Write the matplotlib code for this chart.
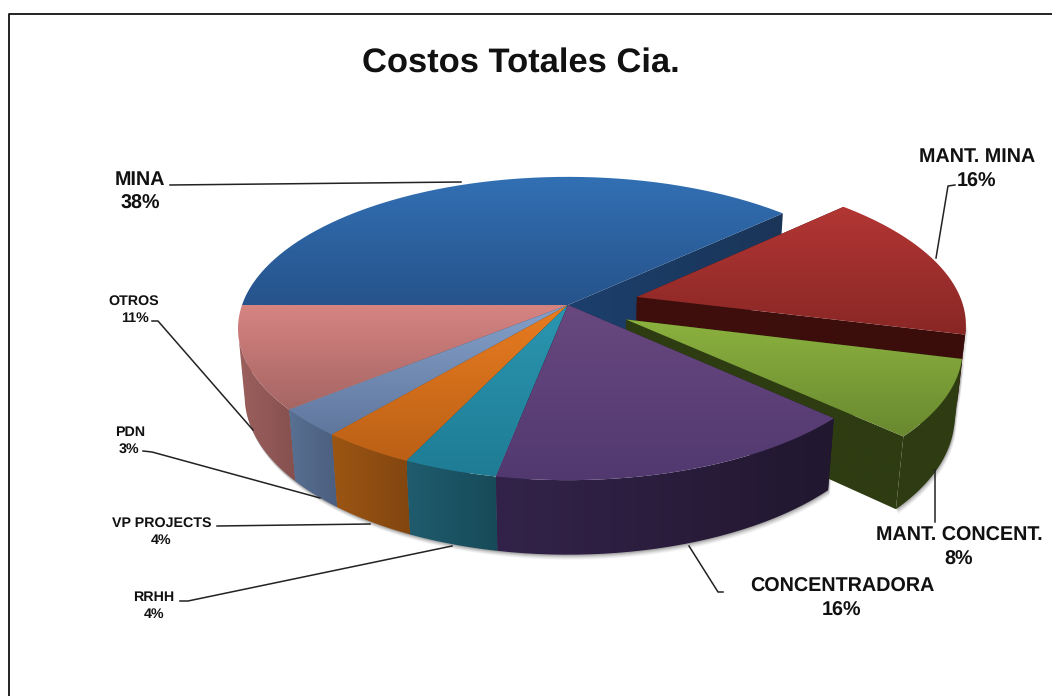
import numpy as np
import matplotlib
matplotlib.use('Agg')
import matplotlib.pyplot as plt
from matplotlib.colors import LinearSegmentedColormap
from matplotlib.patches import PathPatch
from matplotlib.path import Path

plt.rcParams['font.family'] = ['Liberation Sans', 'DejaVu Sans']
plt.rcParams['text.hinting'] = 'no_hinting'

# slices, clockwise starting from the left of the pie
labels = ['MINA', 'MANT. MINA', 'MANT. CONCENT.', 'CONCENTRADORA',
          'RRHH', 'VP PROJECTS', 'PDN', 'OTROS']
values = [38, 16, 8, 16, 4, 4, 3, 11]
explode = [0, 0.22, 0.2, 0, 0, 0, 0, 0]

top_start = ['#3270b4', '#b23634', '#8cb23f', '#68487f', '#2b96b0', '#e87c20', '#84a0ca', '#d68482']
top_end = ['#26538b', '#892725', '#6a8930', '#513970', '#1f7c95', '#bb6016', '#60779d', '#a56563']
wall_start = ['#1c3f6c', '#3f0f0d', '#2e3c12', '#33234a', '#1f5c6e', '#9c5513', '#587092', '#9c605e']
wall_end = ['#1a3558', '#3a0d0b', '#2e3c12', '#21172f', '#174a58', '#824610', '#4c5f80', '#85504e']

# pie projection
cx, cy = 568, 305
rx, ry = 326, 148
persp = 0.155
depth = 68
depth_persp = 0.02

# drawing order, back of the pie first
order = [0, 1, 2, 7, 6, 5, 4, 3]


def project(u, v, z=0.0):
    w = 1 - persp * v + depth_persp * z
    return cx + rx * u / w, cy + (ry * v + depth * z) / w


def arc(a0, a1, off, z=0.0):
    t = np.radians(np.linspace(a0, a1, max(int(abs(a1 - a0)) * 2, 2)))
    return project(np.cos(t) + off[0], -np.sin(t) + off[1], z)


def fill_gradient(ax, xs, ys, c0, c1, vertical, zorder):
    xs, ys = np.asarray(xs), np.asarray(ys)
    cmap = LinearSegmentedColormap.from_list('g', [c0, c1])
    ramp = np.linspace(0, 1, 128)
    ramp = ramp[:, None] if vertical else ramp[None, :]
    pts = np.column_stack([xs, ys])
    patch = PathPatch(Path(np.vstack([pts, pts[:1]])), transform=ax.transData, fc='none', ec='none')
    ax.add_patch(patch)
    im = ax.imshow(ramp, cmap=cmap, vmin=0, vmax=1, aspect='auto', origin='upper',
                   extent=(xs.min(), xs.max(), ys.max(), ys.min()), zorder=zorder,
                   interpolation='bilinear')
    im.set_clip_path(patch)


fig = plt.figure(figsize=(10.52, 6.96), dpi=100)
ax = fig.add_axes([0, 0, 1, 1])

angles = 180 - np.cumsum([0] + [v * 3.6 for v in values])
z = 2
for i in order:
    a0, a1 = angles[i], angles[i + 1]
    mid = np.radians((a0 + a1) / 2)
    off = (explode[i] * np.cos(mid), -explode[i] * np.sin(mid))

    apex_top = project(off[0], off[1])
    apex_low = project(off[0], off[1], 1)

    # the two flat cut faces
    for a in (a0, a1):
        x_top, y_top = arc(a, a, off)
        x_low, y_low = arc(a, a, off, 1)
        fill_gradient(ax, [apex_top[0], x_top[0], x_low[0], apex_low[0]],
                      [apex_top[1], y_top[0], y_low[0], apex_low[1]],
                      wall_start[i], wall_end[i], False, z)
        z += 1

    # rim wall, only the part turned to the viewer
    w0, w1 = min(a0, -10), max(a1, -170)
    if w0 > w1:
        x_top, y_top = arc(w0, w1, off)
        x_low, y_low = arc(w0, w1, off, 1)
        xs = np.r_[x_top, x_low[::-1]]
        ys = np.r_[y_top, y_low[::-1]]
        # soft shadow on the floor
        for dy, alpha in ((5, 0.05), (4, 0.07), (3, 0.09), (2, 0.12), (1, 0.15)):
            ax.fill(xs + dy * 0.4, ys + dy, color='#303030', alpha=alpha, lw=0, zorder=1)
        fill_gradient(ax, xs, ys, wall_start[i], wall_end[i], False, z)
        z += 1

    # top surface
    x_rim, y_rim = arc(a0, a1, off)
    fill_gradient(ax, np.r_[apex_top[0], x_rim], np.r_[apex_top[1], y_rim],
                  top_start[i], top_end[i], True, z)
    z += 1

ax.set_xlim(0, 1052)
ax.set_ylim(696, 0)
ax.axis('off')

# outer frame, open on the right and at the bottom
ax.plot([9, 9, 1052], [696, 13.5, 13.5], color='#111111', lw=1.3, zorder=z)

# leader lines
leaders = [
    ([170, 461], [185, 182]),
    ([955, 948, 936], [185, 186, 258]),
    ([935, 935], [470, 522]),
    ([689, 718, 723], [546, 592, 592]),
    ([152, 158, 253], [321, 321, 430]),
    ([143, 152, 320], [451, 452, 498]),
    ([217, 370], [526, 524]),
    ([180, 188, 452], [601, 601, 546]),
]
for xs, ys in leaders:
    ax.plot(xs, ys, color='#222222', lw=1.1, zorder=z + 1)

ax.text(521, 63, 'Costos Totales Cia.', fontsize=24.8, fontweight='bold',
        ha='center', va='center', color='#111111', zorder=z + 2)

# (x, y of name, y of percent, x of percent, font size)
label_pos = [
    (140, 180, 204, 140, 14.2),
    (977, 157, 182, 977, 14.2),
    (959, 536, 560, 959, 14.2),
    (842, 587, 611, 842, 14.2),
    (154, 597, 614, 154, 10.3),
    (162, 523, 540, 161, 10.3),
    (130, 432, 449, 129, 10.3),
    (134, 301, 318, 135, 10.3),
]
for name, val, (x, y, y2, x2, fs) in zip(labels, values, label_pos):
    ax.text(x, y, name, fontsize=fs, fontweight='bold', ha='center', va='center',
            color='#111111', zorder=z + 2)
    ax.text(x2, y2, '%d%%' % val, fontsize=fs, fontweight='bold', ha='center', va='center',
            color='#111111', zorder=z + 2)

fig.savefig('out.png', dpi=100)
